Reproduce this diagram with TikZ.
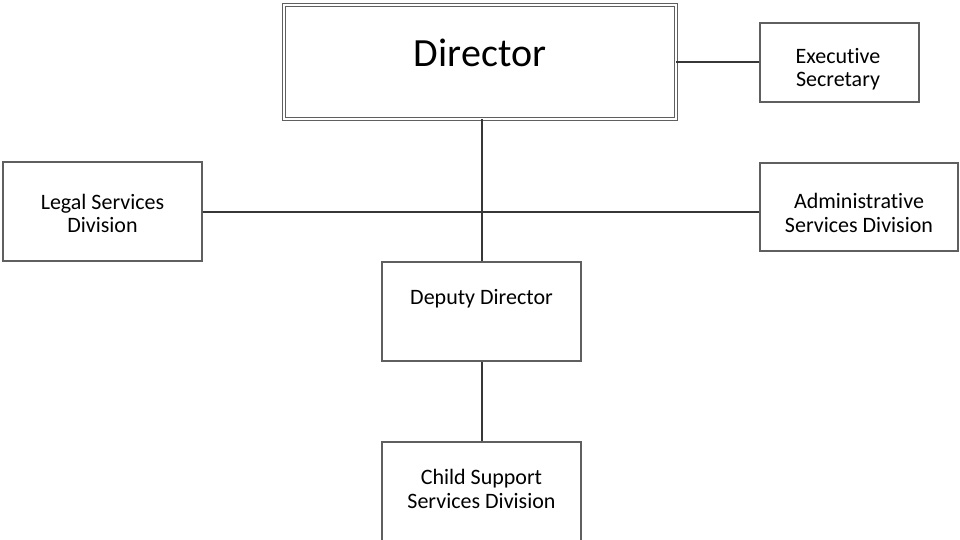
\documentclass[tikz,border=0pt]{standalone}
\usepackage{fontspec}
\setmainfont[Ligatures=NoCommon]{Carlito}
\definecolor{boxline}{RGB}{95,95,95}
\definecolor{linkline}{RGB}{55,55,55}
\begin{document}
\begin{tikzpicture}[x=1pt,y=-1pt,
  unit/.style={draw=boxline,line width=1.1pt,rectangle,inner sep=0pt},
  label text/.style={font=\fontsize{22}{23.5}\selectfont,align=center,anchor=base,inner sep=0pt},
  link/.style={draw=linkline,line width=2pt}]
  \useasboundingbox (0,0) rectangle (960,540);
  \clip (0,0) rectangle (960,540);

  % boxes
  \node[unit,double=white,double distance=2.2pt,line width=0.9pt,
        minimum width=392pt,minimum height=114pt] (dir) at (480,62) {};
  \node[unit,minimum width=159pt,minimum height=79pt] (sec) at (839.5,62.5) {};
  \node[unit,minimum width=198pt,minimum height=88pt] (adm) at (859,207) {};
  \node[unit,minimum width=199pt,minimum height=99pt] (leg) at (102.5,211.5) {};
  \node[unit,minimum width=199pt,minimum height=99pt] (dep) at (481.5,311.5) {};
  \node[unit,minimum width=199pt,minimum height=120pt] (csd) at (481.5,502) {};

  % texts (base anchor sits on the last line)
  \node[label text,font=\fontsize{40}{44}\selectfont] (tdir) at (480,67) {Director};
  \node[label text] (tsec) at (838,87) {Executive\\Secretary};
  \node[label text] (tadm) at (859,232) {Administrative\\Services Division};
  \node[label text] (tleg) at (102.5,232.5) {Legal Services\\Division};
  \node[label text] (tdep) at (481.5,304) {Deputy Director};
  \node[label text] (tcsd) at (481.5,508) {Child Support\\Services Division};

  % connectors
  \coordinate (hub) at (dep.north |- 0,212);
  \draw[link] (dir.east) -- (dir.east -| sec.west);
  \draw[link] (dir.south -| dep.north) -- (dep.north);
  \draw[link] (leg.east |- hub) -- (hub) -- (adm.west |- hub);
  \draw[link] (dep.south) -- (csd.north);
\end{tikzpicture}
\end{document}
